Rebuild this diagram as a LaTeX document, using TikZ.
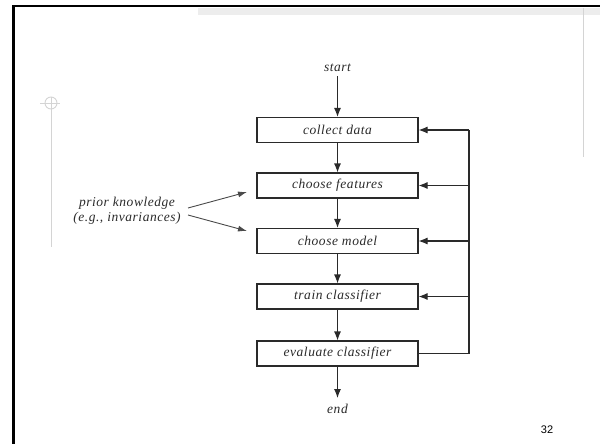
\documentclass[tikz,border=0pt]{standalone}
\usepackage{fontspec}
\setmainfont{Liberation Serif}
\newfontfamily\diafont[LetterSpace=4]{Liberation Serif}
\newfontfamily\numfont{Liberation Sans}
\usetikzlibrary{arrows.meta,patterns}
\definecolor{ink}{HTML}{2A2A2A}
\definecolor{rule}{HTML}{D4D4D4}
\tikzset{
  stepbox/.style={draw=ink, line width=1.1pt, minimum width=161pt, minimum height=25pt, inner sep=0pt, font=\diafont\fontsize{13.5}{15}\selectfont\itshape, text=ink},
  lbl/.style={font=\diafont\fontsize{13.5}{15}\selectfont\itshape, text=ink, inner sep=0pt},
  flow/.style={draw=ink, line width=1.1pt, -{Latex[length=9pt,width=7pt]}},
  thinflow/.style={draw=ink!85, line width=0.9pt, -{Latex[length=9pt,width=6pt]}},
  fb/.style={draw=ink, line width=1.1pt},
}
\begin{document}
\begin{tikzpicture}[x=1pt,y=-1pt]
\useasboundingbox (0,0) rectangle (600,444);
% slide decorations
\fill[gray!14] (198,8.5) rectangle (600,15.5);
\draw[rule, line width=1.3pt] (583.5,8) -- (583.5,157);
\draw[rule, line width=1pt] (51,97) -- (51,247);
\draw[rule, line width=0.9pt] (40,103) -- (60,103);
\draw[rule, line width=0.9pt] (51,103) circle (6);
\draw[black, line width=2.6pt] (13.3,444) -- (13.3,6) -- (600,6);
% diagram
\node[lbl] (start) at (337.5,68) {start};
\node[stepbox] (collect) at (337.5,130) {collect data};
\node[stepbox] (features) at (337.5,185.5) {choose features};
\node[stepbox] (model) at (337.5,241) {choose model};
\node[stepbox] (train) at (337.5,296.5) {train classifier};
\node[stepbox] (eval) at (337.5,353.5) {evaluate classifier};
\node[lbl] (end) at (337.5,409) {end};
\node[lbl, align=center] (prior) at (127,210.5) {prior knowledge\\(e.g., invariances)};
\node[font=\numfont\fontsize{11}{12}\selectfont, inner sep=0pt] (page) at (547,430) {32};

\draw[flow] (start.south) ++(0,4) coordinate (s0) (s0) -- (collect.north);
\draw[flow] (collect) -- (features);
\draw[flow] (features) -- (model);
\draw[flow] (model) -- (train);
\draw[flow] (train) -- (eval);
\coordinate (e1) at (337.5,398);
\draw[flow] (eval.south) -- (e1);

\coordinate (c1) at (469,130);
\coordinate (c2) at (469,185.5);
\coordinate (c3) at (469,241);
\coordinate (c4) at (469,296.5);
\coordinate (c5) at (469,353.5);
\draw[fb] (eval.east) -- (c5) -- (c1);
\draw[flow] (c1) -- (collect.east);
\draw[flow] (c2) -- (features.east);
\draw[flow] (c3) -- (model.east);
\draw[flow] (c4) -- (train.east);

\coordinate (p1) at (188,208);
\coordinate (p2) at (188,215);
\coordinate (q1) at (247,192);
\coordinate (q2) at (247,231);
\draw[thinflow] (p1) -- (q1);
\draw[thinflow] (p2) -- (q2);
\end{tikzpicture}
\end{document}
